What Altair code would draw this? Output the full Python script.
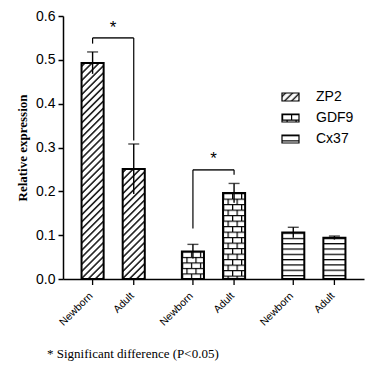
import altair as alt
import pandas as pd
from urllib.parse import quote

# ---------------- data ----------------
genes = ["ZP2", "GDF9", "Cx37"]
stages = ["Newborn", "Adult"]
bar_gene = ["ZP2", "ZP2", "GDF9", "GDF9", "Cx37", "Cx37"]
bar_stage = ["Newborn", "Adult", "Newborn", "Adult", "Newborn", "Adult"]
bar_value = [0.493, 0.251, 0.063, 0.196, 0.106, 0.094]
bar_error = [0.025, 0.057, 0.016, 0.022, 0.012, 0.004]

sig_gene = ["ZP2", "ZP2", "GDF9", "GDF9"]
sig_stage = ["Newborn", "Adult", "Newborn", "Adult"]
sig_top = [0.550, 0.550, 0.249, 0.249]
sig_end = [0.537, 0.316, 0.115, 0.238]
star_gene = ["ZP2", "GDF9"]
star_y = [0.582, 0.284]

yticks = [0.0, 0.1, 0.2, 0.3, 0.4, 0.5, 0.6]
footnote = "* Significant difference  (P<0.05)"

# ---------------- fill patterns (styles) ----------------
def pattern_uri(pattern):
    svg = ("<svg xmlns='http://www.w3.org/2000/svg' width='100%' height='100%'>"
           "<defs>" + pattern + "</defs>"
           "<rect width='100%' height='100%' fill='white'/>"
           "<rect width='100%' height='100%' fill='url(#p)'/></svg>")
    return "data:image/svg+xml;charset=utf-8," + quote(svg)

patterns = {
    "ZP2": pattern_uri(
        "<pattern id='p' width='5' height='5' patternUnits='userSpaceOnUse' "
        "patternTransform='rotate(45)'>"
        "<line x1='2.5' y1='0' x2='2.5' y2='5' stroke='black' stroke-width='1.4'/></pattern>"),
    "GDF9": pattern_uri(
        "<pattern id='p' width='9' height='11' patternUnits='userSpaceOnUse'>"
        "<path d='M0 0.6H9M0 6.1H9M0.6 0V5.5M5.1 5.5V11' stroke='black' "
        "stroke-width='1.2' fill='none'/></pattern>"),
    "Cx37": pattern_uri(
        "<pattern id='p' width='10' height='5.3' patternUnits='userSpaceOnUse'>"
        "<path d='M0 0.6H10' stroke='black' stroke-width='1.3' fill='none'/></pattern>"),
}

bars = pd.DataFrame({"gene": bar_gene, "stage": bar_stage,
                     "value": bar_value, "err": bar_error})
bars["url"] = bars["gene"].map(patterns)
bars["lo"] = bars["value"] - bars["err"]
bars["hi"] = bars["value"] + bars["err"]
bars["zero"] = 0.0

sig = pd.DataFrame({"gene": sig_gene, "stage": sig_stage, "top": sig_top, "end": sig_end})
stars = pd.DataFrame({"gene": star_gene, "y": star_y})
legend = pd.DataFrame({"gene": genes, "url": [patterns[g] for g in genes]})
xlab = pd.DataFrame({"gene": bar_gene, "stage": bar_stage})
foot = pd.DataFrame({"t": [footnote]})

W, H = 301, 263
SANS = "Liberation Sans"
SERIF = "Liberation Serif"

x_enc = alt.X("gene:N", sort=genes,
              scale=alt.Scale(domain=genes, paddingInner=0.2, paddingOuter=0.1),
              axis=alt.Axis(labels=False, ticks=False, title=None, domainColor="black",
                            domainWidth=1.5))
xo_enc = alt.XOffset("stage:N", sort=stages,
                     scale=alt.Scale(domain=stages, paddingInner=0.463, paddingOuter=0.207))
y_scale = alt.Scale(domain=[0, 0.6], nice=False, zero=True)
y_enc = alt.Y("value:Q", scale=y_scale,
              axis=alt.Axis(values=yticks, format=".1f", grid=False,
                            labelFont=SANS, labelFontSize=14, labelColor="black",
                            labelPadding=3, tickSize=5, tickColor="black", tickWidth=1.5,
                            domainColor="black", domainWidth=1.5,
                            title="Relative expression", titleFont=SERIF,
                            titleFontSize=13, titleFontWeight="bold", titleColor="black",
                            titlePadding=6))

fill_layer = alt.Chart(bars).mark_image(aspect=False).encode(
    x=x_enc, xOffset=xo_enc, y=y_enc, y2=alt.Y2("zero:Q"), url=alt.Url("url:N"))

outline = alt.Chart(bars).mark_bar(fillOpacity=0, stroke="black", strokeWidth=2).encode(
    x=x_enc, xOffset=xo_enc, y=alt.Y("value:Q", scale=y_scale))

err_rule = alt.Chart(bars).mark_rule(color="black", strokeWidth=1.4).encode(
    x=x_enc, xOffset=xo_enc, y=alt.Y("lo:Q", scale=y_scale), y2="hi:Q")

err_cap = alt.Chart(bars).mark_tick(orient="horizontal", size=11, thickness=1.4,
                                    color="black").encode(
    x=x_enc, xOffset=xo_enc, y=alt.Y("hi:Q", scale=y_scale))

sig_vert = alt.Chart(sig).mark_rule(color="black", strokeWidth=1.2).encode(
    x=x_enc, xOffset=xo_enc, y=alt.Y("top:Q", scale=y_scale), y2="end:Q")

sig_horiz = alt.Chart(sig).mark_tick(orient="horizontal", size=41, thickness=1.2,
                                     color="black").encode(
    x=x_enc, y=alt.Y("top:Q", scale=y_scale))

star_text = alt.Chart(stars).mark_text(text="*", font=SANS, fontSize=17,
                                       baseline="middle", color="black", dy=4).encode(
    x=x_enc, y=alt.Y("y:Q", scale=y_scale))

x_ticks = alt.Chart(xlab).mark_rule(color="black", strokeWidth=1.3).encode(
    x=x_enc, xOffset=xo_enc, y=alt.value(H), y2=alt.value(H + 6))

x_labels = alt.Chart(xlab).mark_text(angle=315, align="right", baseline="middle",
                                     font=SANS, fontSize=10.5, color="black",
                                     dx=-2).encode(
    x=x_enc, xOffset=xo_enc, y=alt.value(H + 14), text="stage:N")

leg_base = alt.Chart(legend).transform_window(
    idx="row_number()").transform_calculate(
    ly="56 + datum.idx * 21", ly2="64 + datum.idx * 21", lt="60 + datum.idx * 21")

leg_fill = leg_base.mark_image(aspect=False).encode(
    x=alt.value(219), x2=alt.value(236),
    y=alt.Y("ly:Q", scale=None, axis=None), y2="ly2:Q", url=alt.Url("url:N"))
leg_box = leg_base.mark_rect(fill=None, fillOpacity=0, stroke="black",
                             strokeWidth=1.2).encode(
    x=alt.value(219), x2=alt.value(236),
    y=alt.Y("ly:Q", scale=None, axis=None), y2="ly2:Q")
leg_text = leg_base.mark_text(align="left", baseline="middle", font=SANS,
                              fontSize=14, color="black").encode(
    x=alt.value(253), y=alt.Y("lt:Q", scale=None, axis=None), text="gene:N")

foot_text = alt.Chart(foot).mark_text(align="left", baseline="middle", font=SERIF,
                                      fontSize=13, color="black").encode(
    x=alt.value(-16), y=alt.value(338), text="t:N")

chart = alt.layer(
    fill_layer, outline, err_rule, err_cap, sig_vert, sig_horiz, star_text,
    x_ticks, x_labels, leg_fill, leg_box, leg_text, foot_text
).properties(
    width=W, height=H,
    padding={"left": 55, "top": 8, "right": 2, "bottom": 84},
    autosize=alt.AutoSizeParams(type="none"),
).configure_view(stroke=None)

chart.save("out.html", embed_options={"renderer": "svg", "actions": False})
